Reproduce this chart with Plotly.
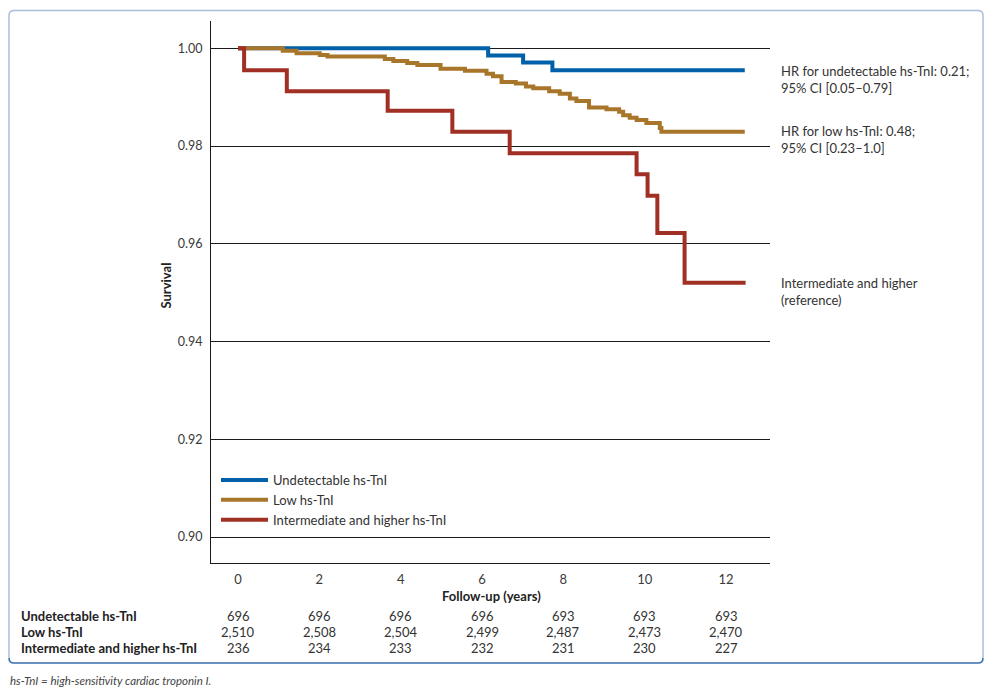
import plotly.graph_objects as go

# ---------------- data ----------------
series_names = ["Undetectable hs-TnI", "Low hs-TnI", "Intermediate and higher hs-TnI"]
series_colors = ["#0060AA", "#A8762A", "#A03024"]

undetect_t = [0, 6.15, 7.01, 7.73, 12.46]
undetect_s = [1.0, 0.9985, 0.9971, 0.9955, 0.9955]

low_t = [0, 1.10, 1.44, 2.01, 2.20, 3.61, 3.82, 4.16, 4.41, 4.98, 5.58, 6.11, 6.27, 6.48,
         6.83, 7.08, 7.26, 7.65, 7.91, 8.16, 8.32, 8.63, 9.06, 9.37, 9.47, 9.63, 9.80,
         10.04, 10.37, 10.41, 12.46]
low_s = [1.0, 0.9995, 0.9990, 0.9986, 0.9983, 0.9978, 0.9974, 0.9970, 0.9966, 0.9958,
         0.9954, 0.9948, 0.9943, 0.9931, 0.9928, 0.9922, 0.9918, 0.9912, 0.9907, 0.9897,
         0.9892, 0.9879, 0.9875, 0.9870, 0.9863, 0.9858, 0.9853, 0.9847, 0.9837, 0.9829,
         0.9829]

inter_t = [0, 0.15, 1.20, 3.68, 5.27, 6.68, 9.80, 10.07, 10.31, 10.98, 12.48]
inter_s = [1.0, 0.9955, 0.9912, 0.9872, 0.9829, 0.9785, 0.9742, 0.9698, 0.9622, 0.9520, 0.9520]

x_ticks = [0, 2, 4, 6, 8, 10, 12]
y_ticks = [0.90, 0.92, 0.94, 0.96, 0.98, 1.00]
y_ticklabels = ["0.90", "0.92", "0.94", "0.96", "0.98", "1.00"]

risk_undetect = ["696", "696", "696", "696", "693", "693", "693"]
risk_low = ["2,510", "2,508", "2,504", "2,499", "2,487", "2,473", "2,470"]
risk_inter = ["236", "234", "233", "232", "231", "230", "227"]
risk_rows = [risk_undetect, risk_low, risk_inter]

hr_notes = ["HR for undetectable hs-TnI: 0.21;<br>95% CI [0.05\u20130.79]",
            "HR for low hs-TnI: 0.48;<br>95% CI [0.23\u20131.0]",
            "Intermediate and higher<br>(reference)"]
footnote = "hs-TnI = high-sensitivity cardiac troponin I."

# ---------------- layout geometry (pixels) ----------------
W, H = 994, 693
L, R, T, B = 211, 770, 21, 563
FONT = "Lato, 'Open Sans', sans-serif"
TXT = "#333333"
FS = 13


def px(xp):
    return (xp - L) / (R - L)


def py(yp):
    return (B - yp) / (B - T)


fig = go.Figure()
for t, s, name, col in zip([undetect_t, low_t, inter_t], [undetect_s, low_s, inter_s],
                           series_names, series_colors):
    fig.add_trace(go.Scatter(x=t, y=s, mode="lines", name=name,
                             line=dict(color=col, width=4, shape="hv")))

ann = []
# right-side notes
for txt, yp in zip(hr_notes, [79, 139.5, 291]):
    ann.append(dict(text=txt, xref="paper", yref="paper", x=px(779), y=py(yp),
                    xanchor="left", yanchor="middle", align="left", showarrow=False,
                    font=dict(size=FS, color=TXT, family=FONT)))
# axis titles
ann.append(dict(text="<b>Follow-up (years)</b>", xref="paper", yref="paper", x=px(491), y=py(596),
                xanchor="center", yanchor="middle", showarrow=False,
                font=dict(size=FS, color="#222222", family=FONT)))
ann.append(dict(text="<b>Survival</b>", xref="paper", yref="paper", x=px(165), y=py(285.5),
                xanchor="center", yanchor="middle", showarrow=False, textangle=-90,
                font=dict(size=FS, color="#222222", family=FONT)))
# number at risk table
for row_name, row_vals, yp in zip(series_names, risk_rows, [616, 632, 648]):
    ann.append(dict(text="<b>" + row_name + "</b>", xref="paper", yref="paper", x=px(19), y=py(yp),
                    xanchor="left", yanchor="middle", showarrow=False,
                    font=dict(size=FS, color="#222222", family=FONT)))
    for xv, v in zip(x_ticks, row_vals):
        ann.append(dict(text=v, xref="x", yref="paper", x=xv, y=py(yp),
                        xanchor="center", yanchor="middle", showarrow=False,
                        font=dict(size=FS, color=TXT, family=FONT)))
# footnote
ann.append(dict(text="<i>" + footnote + "</i>", xref="paper", yref="paper", x=px(8), y=py(680),
                xanchor="left", yanchor="middle", showarrow=False,
                font=dict(size=11.5, color="#444444", family=FONT)))

# frame (rounded rectangle)
x0, x1, y0, y1 = px(9), px(983), py(10.5), py(663)
rx, ry = 5 / (R - L), 5 / (B - T)
frame_path = (f"M{x0},{y1 + ry} L{x0},{y0 - ry} Q{x0},{y0} {x0 + rx},{y0} "
              f"L{x1 - rx},{y0} Q{x1},{y0} {x1},{y0 - ry} L{x1},{y1 + ry}")
bottom_path = f"M{x0},{y1 + ry} Q{x0},{y1} {x0 + rx},{y1} L{x1 - rx},{y1} Q{x1},{y1} {x1},{y1 + ry}"
shapes = [
    dict(type="path", path=frame_path, xref="paper", yref="paper",
         line=dict(color="#A9BEDD", width=1.5), layer="below"),
    dict(type="path", path=bottom_path, xref="paper", yref="paper",
         line=dict(color="#3A6DAA", width=1.5), layer="below"),
]

fig.update_layout(
    width=W, height=H,
    margin=dict(l=L, r=W - R, t=T, b=H - B, pad=0),
    paper_bgcolor="white", plot_bgcolor="white",
    font=dict(family=FONT, size=FS, color=TXT),
    showlegend=True,
    legend=dict(x=px(216), y=py(465), xanchor="left", yanchor="top",
                bgcolor="rgba(0,0,0,0)", font=dict(size=FS, color=TXT, family=FONT),
                itemwidth=47, tracegroupgap=0),
    xaxis=dict(range=[-0.664, 13.08], showgrid=False, zeroline=False, showline=True,
               linecolor="#1a1a1a", linewidth=1.2, tickvals=x_ticks, ticks="",
               tickfont=dict(size=FS, color="#3a3a3a", family=FONT), ticklabelstandoff=4),
    yaxis=dict(range=[0.89468, 1.00558], showgrid=True, gridcolor="#1a1a1a", gridwidth=1,
               zeroline=False, showline=True, linecolor="#1a1a1a", linewidth=1.2,
               tickvals=y_ticks, ticktext=y_ticklabels, ticks="",
               tickfont=dict(size=12.5, color="#3a3a3a", family=FONT), ticklabelstandoff=5),
    annotations=ann,
    shapes=shapes,
)

fig.write_html("out.html", config={"displayModeBar": False},
               post_script="document.body.style.margin='0';")
